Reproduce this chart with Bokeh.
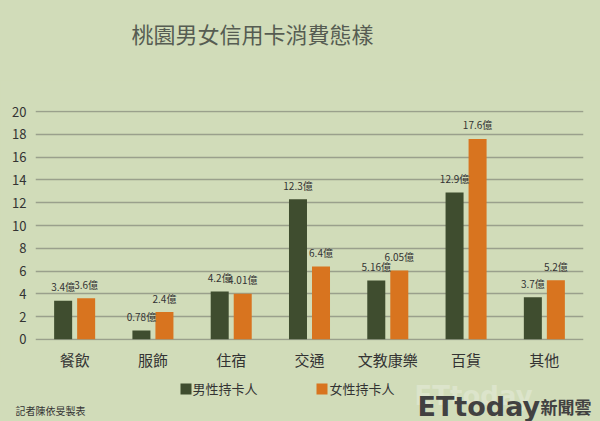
from bokeh.plotting import figure
from bokeh.layouts import column
from bokeh.models import FactorRange, Range1d, Label, FixedTicker, BoxAnnotation
from bokeh.transform import dodge
from bokeh.core.properties import value
from bokeh.embed import file_html
from bokeh.resources import INLINE

categories = ["餐飲", "服飾", "住宿", "交通", "文教康樂", "百貨", "其他"]
male = [3.4, 0.78, 4.2, 12.3, 5.16, 12.9, 3.7]
female = [3.6, 2.4, 4.01, 6.4, 6.05, 17.6, 5.2]
male_labels = ["3.4億", "0.78億", "4.2億", "12.3億", "5.16億", "12.9億", "3.7億"]
female_labels = ["3.6億", "2.4億", "4.01億", "6.4億", "6.05億", "17.6億", "5.2億"]
y_ticks = [0, 2, 4, 6, 8, 10, 12, 14, 16, 18, 20]
title_text = "桃園男女信用卡消費態樣"
series_names = ["男性持卡人", "女性持卡人"]
credit_text = "記者陳依旻製表"

BG = "#d1dcb9"
MALE_C = "#3f4d2f"
FEMALE_C = "#d8741f"
FONT = "Noto Sans CJK TC"
W = 600


def deco_fig(h):
    f = figure(width=W, height=h, x_range=Range1d(0, W), y_range=Range1d(0, h),
               output_backend="svg", toolbar_location=None,
               x_axis_location=None, y_axis_location=None, frame_align=False,
               min_border=0, min_border_left=0, min_border_right=0,
               min_border_top=0, min_border_bottom=0)
    f.background_fill_color = BG
    f.border_fill_color = BG
    f.outline_line_color = None
    f.grid.visible = False
    return f


def lab(f, x, y, text, size, color, font=FONT, align="left", baseline="middle", style="normal"):
    f.add_layout(Label(x=x, y=y, x_units="screen", y_units="screen", text=text,
                       text_align=align, text_baseline=baseline, text_font=font,
                       text_font_size=size, text_font_style=style, text_color=color))


# ---- top strip: title (canvas y 0..80)
top = deco_fig(80)
lab(top, 252, 48, title_text, "22px", "#565c52", align="center")

# ---- main chart (canvas y 80..373), frame 35..583 x 110..340
data = dict(cat=categories, male=male, female=female, ml=male_labels, fl=female_labels)
p = figure(width=W, height=293, x_range=FactorRange(*categories), y_range=Range1d(-0.1, 20.1),
           output_backend="svg", toolbar_location=None, frame_align=False,
           min_border_left=35, min_border_right=17, min_border_top=30, min_border_bottom=33)
p.background_fill_color = BG
p.border_fill_color = BG
p.outline_line_color = None

p.vbar(x=dodge("cat", -0.147, range=p.x_range), top="male", width=0.23, source=data,
       fill_color=MALE_C, line_color=None)
p.vbar(x=dodge("cat", 0.147, range=p.x_range), top="female", width=0.23, source=data,
       fill_color=FEMALE_C, line_color=None)

for key, lb, off in (("male", "ml", -0.147), ("female", "fl", 0.147)):
    p.text(x=dodge("cat", off, range=p.x_range), y=key, text=lb, source=data,
           y_offset=-14, text_align="center", text_baseline="middle",
           text_font=value(FONT), text_font_size="10px", text_color="#333333")

p.xgrid.visible = False
p.ygrid.grid_line_color = "#9aa08c"
p.ygrid.grid_line_width = 1.5
p.yaxis.ticker = FixedTicker(ticks=y_ticks)

for ax in (p.xaxis[0], p.yaxis[0]):
    ax.axis_line_color = None
    ax.major_tick_line_color = None
    ax.minor_tick_line_color = None
    ax.major_tick_out = 0
    ax.major_tick_in = 0
    ax.minor_tick_out = 0
    ax.major_label_text_font = FONT
    ax.major_label_text_color = "#333333"
p.yaxis.major_label_text_font_size = "13px"
p.yaxis.major_label_standoff = 9
p.xaxis.major_label_text_font_size = "15px"
p.xaxis.major_label_standoff = 8

# ---- bottom strip: legend, credit, logo (canvas y 373..421)
bot = deco_fig(48)
bot.add_layout(BoxAnnotation(left=180, right=191, bottom=27, top=38,
                             fill_color=MALE_C, fill_alpha=1, line_color=None))
bot.add_layout(BoxAnnotation(left=316, right=327, bottom=27, top=38,
                             fill_color=FEMALE_C, fill_alpha=1, line_color=None))
lab(bot, 192, 33, series_names[0], "13px", "#333333")
lab(bot, 329, 33, series_names[1], "13px", "#333333")
lab(bot, 15, 11, credit_text, "10px", "#333333")
lab(bot, 414, 26, "ETtoday", "26px", "#dce4cb", font="DejaVu Sans", baseline="alphabetic", style="bold")
lab(bot, 417, 15, "ETtoday", "27px", "#414141", font="DejaVu Sans", baseline="alphabetic", style="bold")
lab(bot, 540, 15, "新聞雲", "17px", "#414141", baseline="alphabetic", style="bold")

layout = column(top, p, bot, spacing=0, styles={"background-color": BG})
html = file_html(layout, INLINE)
html = html.replace("<body>", '<body style="margin:0;background-color:%s">' % BG, 1)
open("out.html", "w").write(html)
